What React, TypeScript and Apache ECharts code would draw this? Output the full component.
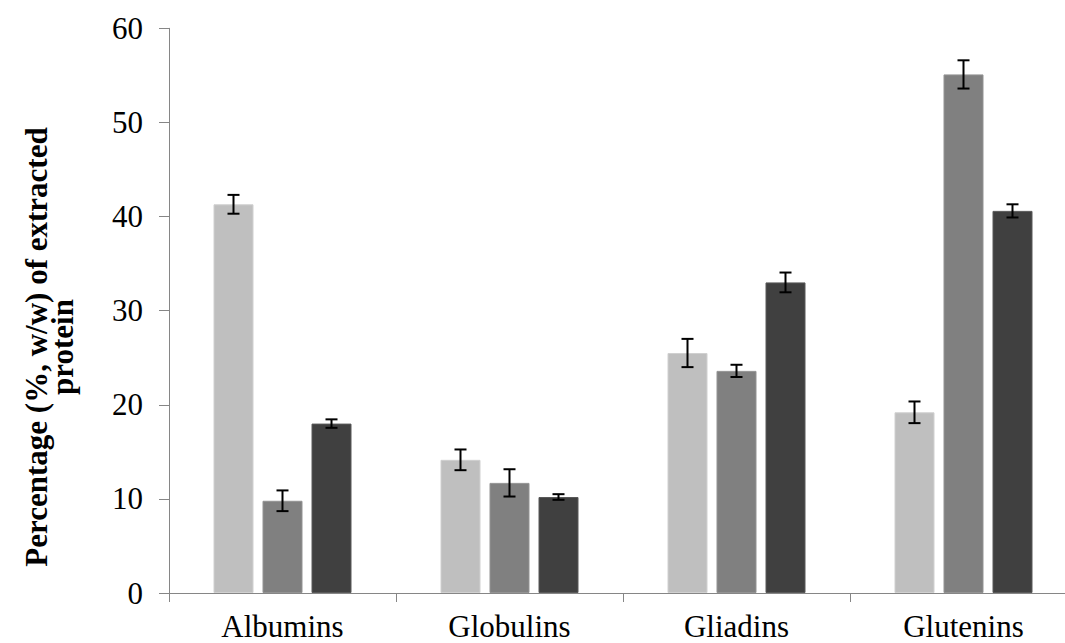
import React, { useEffect, useRef } from "react";
import * as echarts from "echarts";

const categories = ["Albumins", "Globulins", "Gliadins", "Glutenins"];
const seriesNames = ["Light", "Medium", "Dark"];
const lightValues = [41.3, 14.15, 25.5, 19.2];
const lightErrors = [1.0, 1.1, 1.5, 1.15];
const mediumValues = [9.8, 11.7, 23.6, 55.1];
const mediumErrors = [1.1, 1.45, 0.65, 1.5];
const darkValues = [18.0, 10.2, 33.0, 40.6];
const darkErrors = [0.45, 0.3, 1.05, 0.7];
const yTicks = { min: 0, max: 60, interval: 10 };

const colors = ["#bfbfbf", "#808080", "#404040"];
const borders = ["#d0d0d0", "#939393", "#595959"];
const BAR_W = 40;
const GAP = 9;

export default function App() {
  const ref = useRef<HTMLDivElement>(null);
  useEffect(() => {
    if (!ref.current) return;
    const chart = echarts.init(ref.current, null, { renderer: "svg" });
    const values = [lightValues, mediumValues, darkValues];
    const errors = [lightErrors, mediumErrors, darkErrors];
    const barSeries = values.map((vals, i) => ({
      name: seriesNames[i],
      type: "bar",
      data: vals,
      barWidth: BAR_W,
      barGap: (GAP / BAR_W) * 100 + "%",
      itemStyle: { color: colors[i], borderColor: borders[i], borderWidth: 1 },
      z: 2,
    }));
    const errSeries = values.map((vals, i) => ({
      name: seriesNames[i] + " error",
      type: "custom",
      z: 5,
      data: vals.map((v, k) => [k, v, errors[i][k]]),
      renderItem: (params: any, api: any) => {
        const k = api.value(0);
        const v = api.value(1);
        const e = api.value(2);
        const top = api.coord([k, v + e]);
        const bot = api.coord([k, v - e]);
        const x = top[0] + (i - 1) * (BAR_W + GAP);
        const cap = 6;
        const st = { stroke: "#000", lineWidth: 2 };
        return {
          type: "group",
          children: [
            { type: "line", shape: { x1: x, y1: top[1], x2: x, y2: bot[1] }, style: st },
            { type: "line", shape: { x1: x - cap, y1: top[1], x2: x + cap, y2: top[1] }, style: st },
            { type: "line", shape: { x1: x - cap, y1: bot[1], x2: x + cap, y2: bot[1] }, style: st },
          ],
        };
      },
    }));
    const font = "'Liberation Serif', 'Times New Roman', serif";
    chart.setOption({
      animation: false,
      grid: { left: 169, right: 23, top: 28.3, bottom: 50 },
      xAxis: {
        type: "category",
        data: categories,
        boundaryGap: true,
        axisLine: { lineStyle: { color: "#868686", width: 1 } },
        axisTick: { show: true, length: 9, alignWithLabel: false, interval: 0, lineStyle: { color: "#868686" } },
        axisLabel: { fontFamily: font, fontSize: 31, color: "#000", margin: 18, interval: 0 },
      },
      yAxis: {
        type: "value",
        min: yTicks.min,
        max: yTicks.max,
        interval: yTicks.interval,
        splitLine: { show: false },
        axisLine: { show: true, lineStyle: { color: "#868686", width: 1 } },
        axisTick: { show: true, length: 10, lineStyle: { color: "#868686" } },
        axisLabel: { fontFamily: font, fontSize: 31, color: "#000", margin: 26 },
      },
      graphic: [
        {
          type: "text",
          x: 49,
          y: 347,
          rotation: Math.PI / 2,
          style: {
            text: "Percentage (%, w/w) of extracted\nprotein",
            fontFamily: font,
            fontWeight: "bold",
            fontSize: 31,
            lineHeight: 26,
            fill: "#000",
            align: "center",
            verticalAlign: "middle",
          },
        },
      ],
      series: [...barSeries, ...errSeries],
    });
    return () => chart.dispose();
  }, []);
  return (
    <div
      style={{ position: "absolute", left: 0, top: 0, width: 1065, height: 643, overflow: "hidden", background: "#fff" }}
    >
      <div ref={ref} style={{ width: 1100, height: 643 }} />
    </div>
  );
}
